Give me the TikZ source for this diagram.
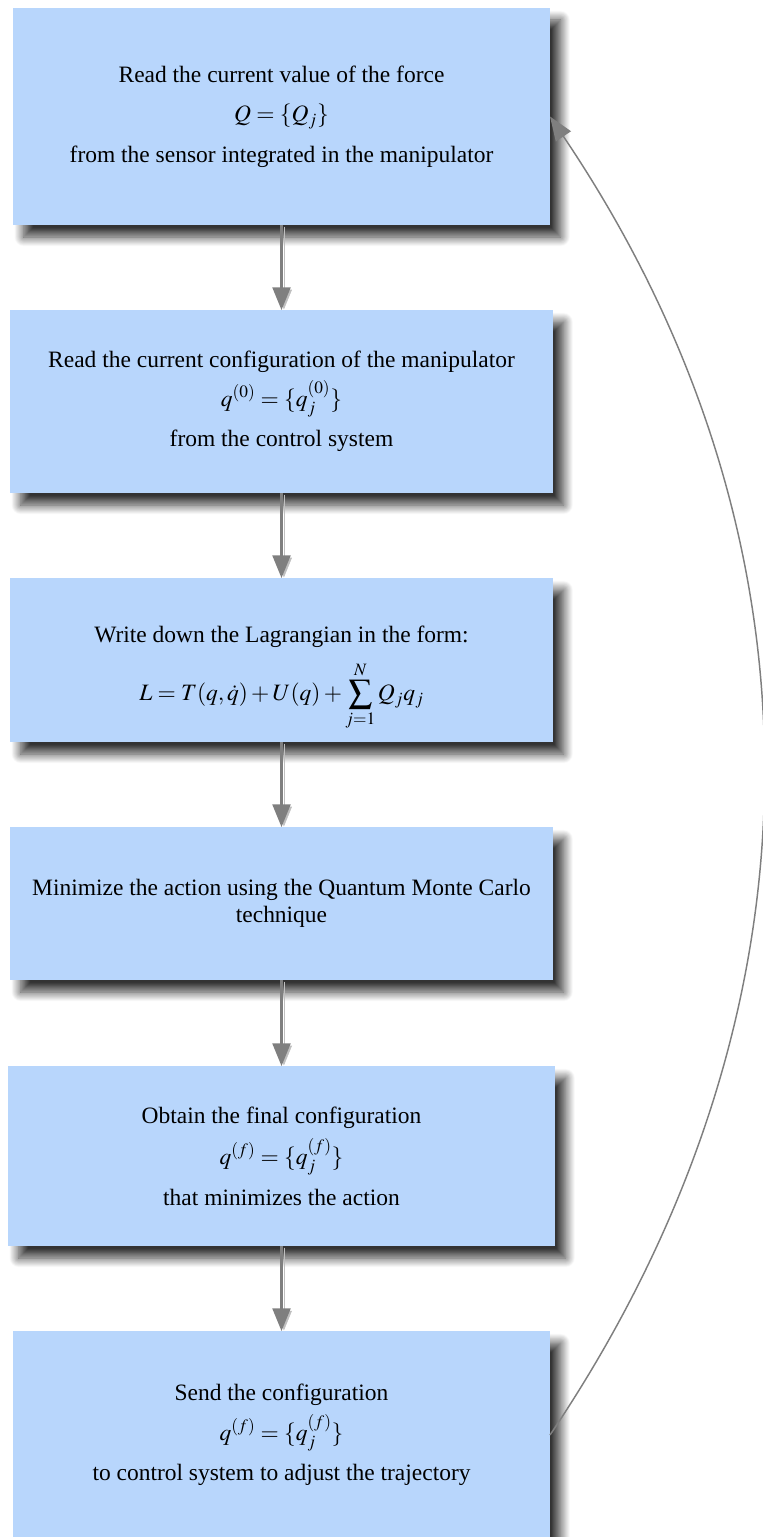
\documentclass[tikz,border=0pt]{standalone}
\usepackage{mathptmx}
\usepackage{fontspec}
\setmainfont{Liberation Serif}
\usepackage{tikz}
\usetikzlibrary{arrows.meta,shadows.blur}
\definecolor{boxfill}{HTML}{B8D6FC}
\definecolor{linkgray}{HTML}{7F7F7F}

\begin{document}
\begin{tikzpicture}[x=0.75pt,y=-0.75pt,
  stepbox/.style={fill=boxfill,inner sep=0pt,outer sep=0pt,align=center,
    font=\fontsize{17.6pt}{20.5pt}\selectfont,
    blur shadow={shadow xshift=8pt,shadow yshift=-9pt,shadow blur radius=7pt,
      shadow blur steps=20,shadow opacity=80}},
  flowarrow/.style={linkgray,line width=1.6pt,-{Triangle[length=17pt,width=13.5pt]},
    preaction={draw=black!25,transform canvas={shift={(1.8pt,-1.2pt)}}}},
  backarrow/.style={linkgray,line width=1.1pt,-{Triangle[length=18pt,width=13.5pt]}}]
  \useasboundingbox (0,0) rectangle (763,1537);
  % steps
  \node[stepbox,minimum width=402.75pt,minimum height=162.75pt] (force) at (281.5,116.5)
    {Read the current value of the force\\[9pt] $Q=\{Q_j\}$\\[10pt] from the sensor integrated in the manipulator};
  \node[stepbox,minimum width=407.25pt,minimum height=137.25pt] (config) at (281.5,401.5)
    {Read the current configuration of the manipulator\\[5pt] $q^{(0)}=\{q_j^{(0)}\}$\\[10pt] from the control system};
  \node[stepbox,minimum width=407.25pt,minimum height=123pt] (lagr) at (281.5,660)
    {\rule{0pt}{40pt}Write down the Lagrangian in the form:\\[10pt] $\displaystyle L=T(q,\dot q)+U(q)+\sum_{j=1}^{N}Q_jq_j$};
  \node[stepbox,minimum width=407.25pt,minimum height=114.75pt] (qmc) at (281.5,903.5)
    {Minimize the action using the Quantum Monte Carlo\\ technique};
  \node[stepbox,minimum width=410.25pt,minimum height=135pt] (final) at (281.5,1156)
    {Obtain the final configuration\\[7pt] $q^{(f)}=\{q_j^{(f)}\}$\\[10pt] that minimizes the action};
  \node[stepbox,minimum width=402.75pt,minimum height=156pt] (send) at (281.5,1435)
    {Send the configuration\\[6pt] $q^{(f)}=\{q_j^{(f)}\}$\\[10pt] to control system to adjust the trajectory};
  % links
  \draw[flowarrow] (force) -- (config);
  \draw[flowarrow] (config) -- (lagr);
  \draw[flowarrow] (lagr) -- (qmc);
  \draw[flowarrow] (qmc) -- (final);
  \draw[flowarrow] (final) -- (send);
  \draw[backarrow] (send.east) .. controls +(284,-421) and +(284,421) .. (force.east);
\end{tikzpicture}
\end{document}
